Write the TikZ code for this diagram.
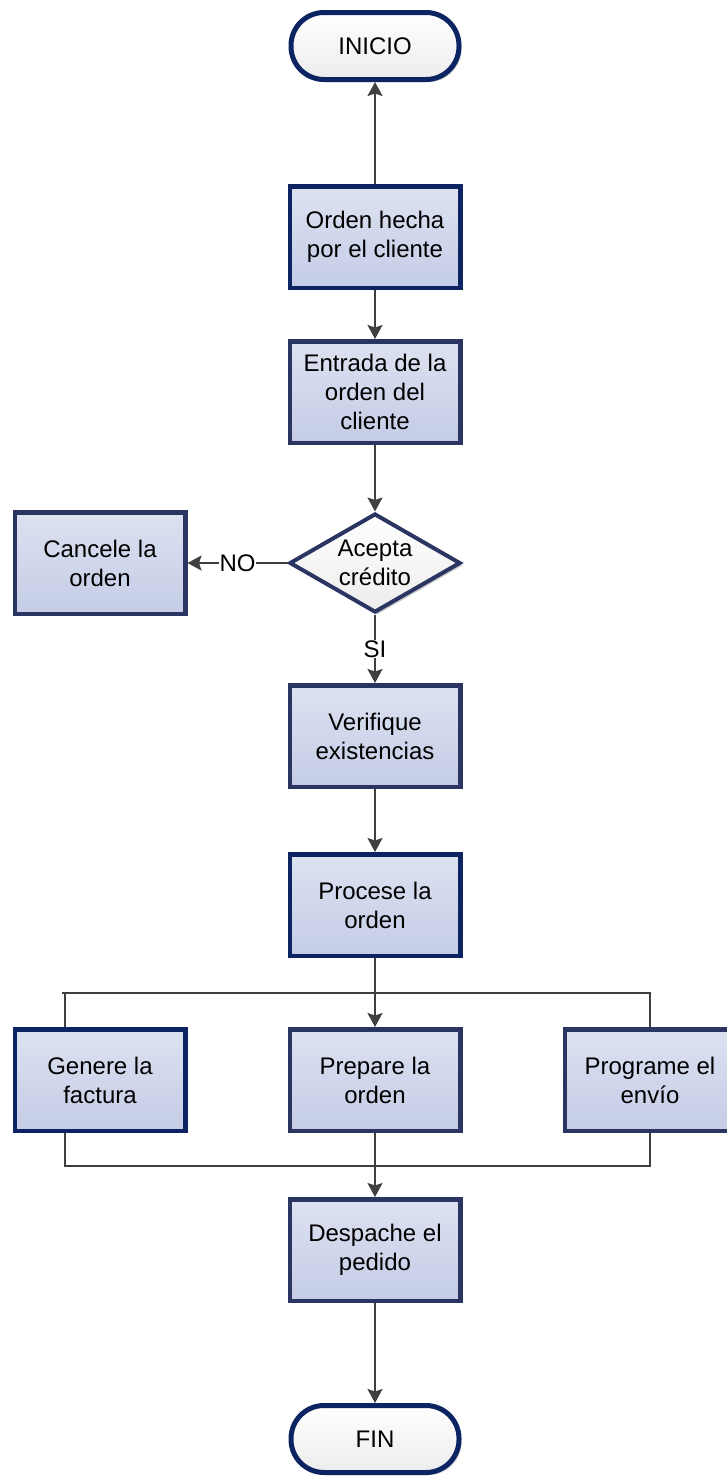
\documentclass[tikz,border=0pt]{standalone}
\usepackage{fontspec}
\setmainfont{Liberation Sans}
\usetikzlibrary{shapes.geometric,shadows,arrows.meta}

\definecolor{navy}{HTML}{0D2462}
\definecolor{slate}{HTML}{2A3562}
\definecolor{wirec}{HTML}{404040}
\definecolor{boxtop}{HTML}{DDE2F1}
\definecolor{boxbot}{HTML}{C4CCE6}
\definecolor{termbot}{HTML}{ECECEC}

\tikzset{
  txt/.style={font=\fontsize{24}{29}\selectfont, align=center, text=black},
  softshadow/.style={drop shadow={opacity=0.22, shadow xshift=2.5pt, shadow yshift=-2.5pt, fill=black}},
  procbox/.style={txt, rectangle, draw=#1, line width=4.5pt,
    top color=boxtop, bottom color=boxbot,
    minimum width=170.5pt, minimum height=101.5pt, inner sep=0pt, softshadow},
  procbox/.default=navy,
  terminal/.style={txt, rectangle, rounded corners=33pt, draw=navy, line width=5pt,
    top color=white, bottom color=termbot,
    minimum width=168pt, minimum height=67pt, inner sep=0pt, softshadow},
  decision/.style={diamond, aspect=1.7, draw=slate, line width=4pt,
    top color=white, bottom color=termbot,
    minimum width=171pt, minimum height=99pt, inner sep=0pt, softshadow},
  wire/.style={draw=wirec, line width=2pt},
  barwire/.style={draw=wirec, line width=2.6pt},
  arr/.style={wire, -{Stealth[length=14pt, width=15pt, inset=2.5pt]}},
  lbl/.style={txt, fill=white, inner sep=0.5pt},
}

\begin{document}
\begin{tikzpicture}[x=1pt, y=-1pt]
  \useasboundingbox (0,0) rectangle (726,1476);

  % main column
  \node[terminal] (inicio) at (375,46) {INICIO};
  \node[procbox] (orden) at (375,237) {Orden hecha\\por el cliente};
  \node[procbox=slate] (entrada) at (375,392) {Entrada de la\\orden del\\cliente};
  \node[decision] (dec) at (375,563) {};
  \node[txt] (dectext) at (dec) {Acepta\\crédito};
  \node[procbox=slate] (cancel) at (100,563) {Cancele la\\orden};
  \node[procbox=slate] (verif) at (375,736) {Verifique\\existencias};
  \node[procbox] (procese) at (375,905) {Procese la\\orden};

  % parallel tasks
  \node[procbox] (genere) at (100,1080) {Genere la\\factura};
  \node[procbox=slate] (prepare) at (375,1080) {Prepare la\\orden};
  \node[procbox=slate] (programe) at (650,1080) {Programe el\\envío};

  \node[procbox=slate] (despache) at (375,1250) {Despache el\\pedido};
  \node[terminal] (fin) at (375,1439) {FIN};

  % connectors
  \draw[arr] (orden) -- (inicio);
  \draw[arr] (orden) -- (entrada);
  \draw[arr] (entrada) -- (dec);
  \draw[arr] (dec.west) -- node[lbl] (nolbl) {NO} (cancel.east);
  \draw[arr] (dec.south) -- node[lbl] (silbl) {SI} (verif.north);
  \draw[arr] (verif) -- (procese);

  % fork and join bars
  \coordinate (tl) at (65,993);
  \coordinate (tr) at (650,993);
  \coordinate (bl) at (65,1166);
  \coordinate (br) at (650,1166);
  \draw[barwire] (genere.north -| tl) -- (tl) -- ++(-3,0) (tl) -- (tr) -- (programe.north -| tr);
  \draw[arr] (procese) -- (prepare);
  \draw[barwire] (genere.south -| bl) -- (bl) -- (br) -- (programe.south -| br);
  \draw[arr] (prepare) -- (despache);
  \draw[arr] (despache) -- (fin);
\end{tikzpicture}
\end{document}
